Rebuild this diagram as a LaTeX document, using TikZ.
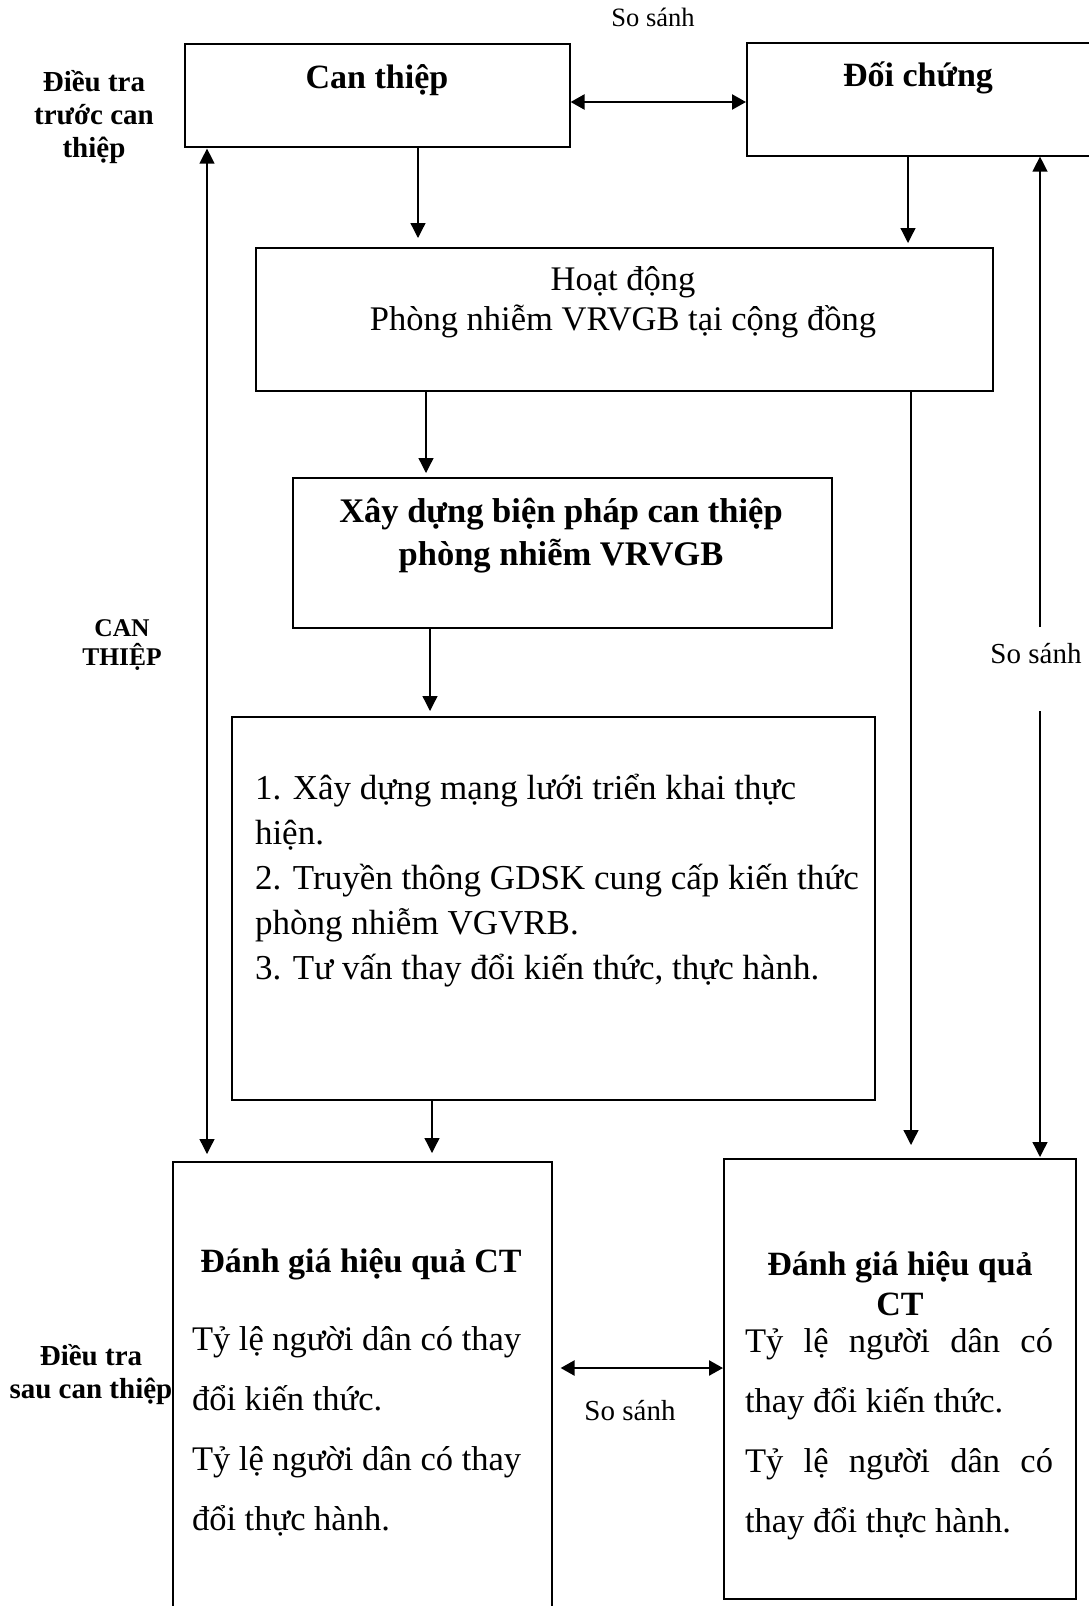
\documentclass[tikz,border=0pt]{standalone}
\usepackage{fontspec}
\setmainfont{Liberation Serif}
\usetikzlibrary{arrows.meta}
\newcommand\myreg{\fontsize{34.5}{40}\selectfont}
\newcommand\mybig{\fontsize{34.5}{43}\selectfont\bfseries}
\begin{document}
\begin{tikzpicture}[x=1pt,y=-1pt,
  boxnode/.style={draw, line width=1.6pt, inner sep=0pt, anchor=north west},
  conn/.style={line width=1.3pt, -{Triangle[length=15pt,width=15pt]}},
  connboth/.style={line width=1.3pt, {Triangle[length=15pt,width=15pt]}-{Triangle[length=15pt,width=15pt]}},
  dconn/.style={line width=2.4pt, {Triangle[length=14pt,width=15pt]}-{Triangle[length=14pt,width=15pt]}},
  txt/.style={inner sep=0pt, outer sep=0pt},
  sidelbl/.style={txt, align=center, font=\fontsize{29}{33}\selectfont\bfseries},
  sslbl/.style={txt, font=\fontsize{29}{33}\selectfont}
]
\useasboundingbox (0,0) rectangle (1089,1606);

% boxes
\node[boxnode, minimum width=385pt, minimum height=103pt] (can) at (184,43) {};
\node[boxnode, minimum width=347pt, minimum height=113pt] (doi) at (746,42) {};
\node[boxnode, minimum width=737pt, minimum height=143pt] (hoat) at (255,247) {};
\node[boxnode, minimum width=539pt, minimum height=150pt] (xay) at (292,477) {};
\node[boxnode, minimum width=643pt, minimum height=383pt] (list) at (231,716) {};
\node[boxnode, minimum width=379pt, minimum height=470pt] (dgl) at (172,1161) {};
\node[boxnode, minimum width=352pt, minimum height=440pt] (dgr) at (723,1158) {};

% texts in boxes (anchor base = baseline of the last line)
\node[txt, anchor=base, font=\fontsize{34}{40}\selectfont\bfseries] (tcan) at (377,88) {Can thiệp};
\node[txt, anchor=base, font=\fontsize{34}{40}\selectfont\bfseries] (tdoi) at (918,86) {Đối chứng};
\node[txt, anchor=base, align=center, font=\myreg] (thoat) at (623,330) {Hoạt động\\Phòng nhiễm VRVGB tại cộng đồng};
\node[txt, anchor=base, align=center, font=\mybig] (txay) at (561,565) {Xây dựng biện pháp can thiệp\\phòng nhiễm VRVGB};
\node[txt, anchor=base west, align=left, font=\fontsize{35}{45}\selectfont] (tlist) at (255,979)
  {1. Xây dựng mạng lưới triển khai thực\\hiện.\\2. Truyền thông GDSK cung cấp kiến thức\\phòng nhiễm VGVRB.\\3. Tư vấn thay đổi kiến thức, thực hành.};
\node[txt, anchor=base, font=\fontsize{34}{40}\selectfont\bfseries] (tdgl) at (361,1272) {Đánh giá hiệu quả CT};
\node[txt, anchor=base west, align=left, font=\fontsize{34.5}{60}\selectfont] (ldgl) at (192,1530)
  {Tỷ lệ người dân có thay\\đổi kiến thức.\\Tỷ lệ người dân có thay\\đổi thực hành.};
\node[txt, anchor=base, align=center, font=\fontsize{34}{40}\selectfont\bfseries] (tdgr) at (900,1315) {Đánh giá hiệu quả\\CT};
\node[txt, anchor=base west, align=left, font=\fontsize{34.5}{60}\selectfont] (ldgr) at (745,1532)
  {\makebox[308pt][s]{Tỷ lệ người dân có}\\thay đổi kiến thức.\\\makebox[308pt][s]{Tỷ lệ người dân có}\\thay đổi thực hành.};

% side labels
\node[sidelbl, anchor=base] (lpre) at (94,157) {Điều tra\\trước can\\thiệp};
\node[txt, anchor=base, align=center, font=\fontsize{25.5}{29}\selectfont\bfseries] (lct) at (122,665) {CAN\\THIỆP};
\node[sidelbl, anchor=base] (lpost) at (91,1398) {Điều tra\\sau can thiệp};
\node[txt, anchor=base, font=\fontsize{26.5}{30}\selectfont] (sstop) at (653,26) {So sánh};
\node[sslbl, anchor=base] (ssright) at (1036,663) {So sánh};
\node[sslbl, anchor=base] (ssbot) at (630,1420) {So sánh};

% connectors
\coordinate (cy) at (0,102);
\draw[dconn] (can.east |- cy) -- (doi.west |- cy);
\coordinate (a1) at (418,0);
\draw[conn, shorten >=9pt] (can.south -| a1) -- (hoat.north -| a1);
\coordinate (a2) at (908,0);
\draw[conn, shorten >=4pt] (doi.south -| a2) -- (hoat.north -| a2);
\coordinate (a3) at (426,0);
\draw[conn, shorten >=4pt] (hoat.south -| a3) -- (xay.north -| a3);
\coordinate (a4) at (430,0);
\draw[conn, shorten >=5pt] (xay.south -| a4) -- (list.north -| a4);
\coordinate (a5) at (432,0);
\draw[conn, shorten >=8pt] (list.south -| a5) -- (dgl.north -| a5);
\coordinate (a6) at (207,0);
\draw[connboth, shorten <=1pt, shorten >=7pt] (can.south -| a6) -- (dgl.north -| a6);
\coordinate (a7) at (911,0);
\draw[conn, shorten >=13pt] (hoat.south -| a7) -- (dgr.north -| a7);
\coordinate (r1) at (1040,627);
\coordinate (r2) at (1040,711);
\draw[conn] (r1) -- (r1 |- doi.south);
\draw[conn, shorten >=1pt] (r2) -- (r2 |- dgr.north);
\coordinate (by) at (0,1368);
\draw[dconn, shorten <=8pt] (dgl.east |- by) -- (dgr.west |- by);
\end{tikzpicture}
\end{document}
